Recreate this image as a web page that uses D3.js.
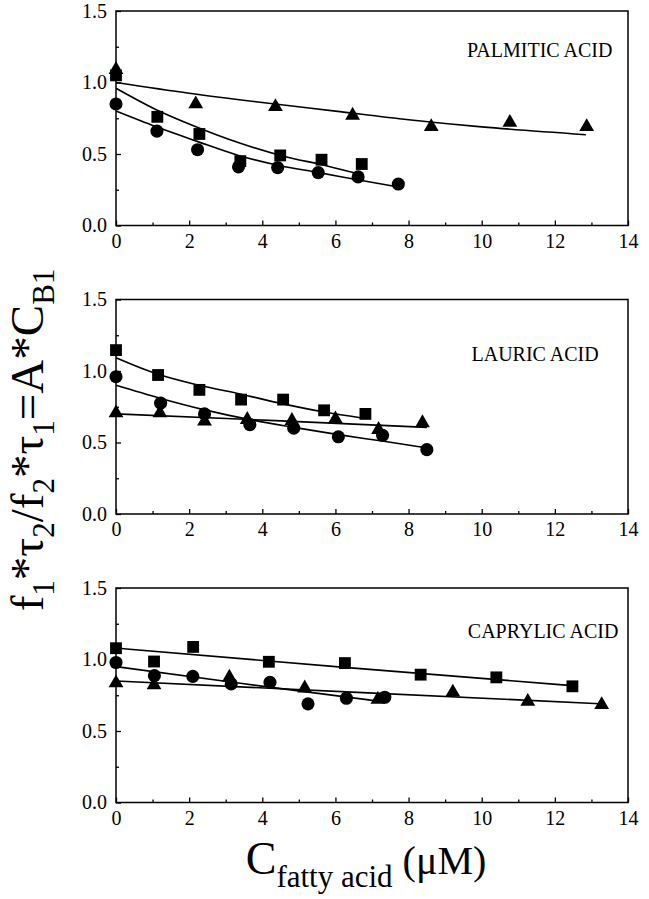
<!DOCTYPE html>
<html><head><meta charset="utf-8">
<script src="https://cdn.jsdelivr.net/npm/d3@7"></script>
<style>
body{margin:0;background:#fff}
svg{display:block}
text{font-family:"Liberation Serif","Times New Roman",serif;fill:#000}
</style>
</head><body>
<svg id="c" width="649" height="899"></svg>
<script>
// ---------- data ----------
const xTicks = [0, 2, 4, 6, 8, 10, 12, 14];
const xMinor = [1, 3, 5, 7, 9, 11, 13];
const yTicks = [0.0, 0.5, 1.0, 1.5];
const yMinor = [0.25, 0.75, 1.25];
const panelNames = ["PALMITIC ACID", "LAURIC ACID", "CAPRYLIC ACID"];
const panelLabelPos = [[9.6, 1.18], [9.72, 1.07], [9.62, 1.148]];

// Palmitic acid
const palmiticSquares = [[0,1.05],[1.13,0.76],[2.28,0.64],[3.40,0.45],[4.49,0.49],[5.62,0.46],[6.72,0.43]];
const palmiticCircles = [[0,0.85],[1.12,0.66],[2.23,0.53],[3.35,0.41],[4.42,0.405],[5.53,0.37],[6.62,0.34],[7.72,0.29]];
const palmiticTriangles = [[0,1.09],[2.18,0.85],[4.36,0.83],[6.47,0.77],[8.62,0.69],[10.77,0.72],[12.87,0.69]];
const palmiticSquareFit = [[0,0.96],[1.1,0.81],[2,0.71],[3.4,0.575],[4.5,0.49],[5.8,0.415],[6.65,0.36]];
const palmiticCircleFit = [[0,0.80],[1.1,0.69],[2.2,0.59],[3.35,0.49],[4.45,0.42],[5.55,0.37],[6.6,0.32],[7.7,0.27]];
const palmiticTriangleFit = [[0,1.0],[2,0.925],[4,0.86],[6,0.80],[8,0.74],[10,0.69],[12.85,0.635]];

// Lauric acid
const lauricSquares = [[0,1.146],[1.15,0.972],[2.28,0.868],[3.42,0.80],[4.57,0.80],[5.69,0.725],[6.82,0.70]];
const lauricCircles = [[0,0.96],[1.22,0.775],[2.42,0.70],[3.66,0.625],[4.86,0.60],[6.08,0.54],[7.29,0.55],[8.5,0.45]];
const lauricTriangles = [[0,0.706],[1.2,0.706],[2.42,0.648],[3.59,0.66],[4.81,0.653],[6.0,0.664],[7.18,0.59],[8.38,0.637]];
const lauricSquareFit = [[0,1.093],[1.15,0.977],[2.28,0.90],[3.42,0.838],[4.57,0.77],[5.69,0.713],[6.77,0.67]];
const lauricCircleFit = [[0,0.90],[1.2,0.81],[2.4,0.73],[3.66,0.66],[4.86,0.606],[6.08,0.555],[7.28,0.51],[8.49,0.463]];
const lauricTriangleFit = [[0,0.70],[4.2,0.655],[8.5,0.606]];

// Caprylic acid
const caprylicSquares = [[0,1.079],[1.04,0.986],[2.11,1.088],[4.18,0.984],[6.26,0.975],[8.33,0.894],[10.4,0.875],[12.48,0.8125]];
const caprylicCircles = [[0,0.979],[1.05,0.887],[2.1,0.882],[3.15,0.829],[4.21,0.84],[5.25,0.69],[6.3,0.729],[7.35,0.736]];
const caprylicTriangles = [[0,0.836],[1.04,0.822],[3.1,0.875],[5.16,0.80],[7.16,0.72],[9.21,0.771],[11.26,0.706],[13.28,0.683]];
const caprylicSquareFit = [[0,1.08],[6.25,0.945],[12.5,0.817]];
const caprylicCircleFit = [[0,0.95],[3.5,0.83],[7.05,0.713]];
const caprylicTriangleFit = [[0,0.85],[6.6,0.77],[13.3,0.69]];

const panels = [
  {squares: palmiticSquares, circles: palmiticCircles, triangles: palmiticTriangles,
   fits: [palmiticSquareFit, palmiticCircleFit, palmiticTriangleFit]},
  {squares: lauricSquares, circles: lauricCircles, triangles: lauricTriangles,
   fits: [lauricSquareFit, lauricCircleFit, lauricTriangleFit]},
  {squares: caprylicSquares, circles: caprylicCircles, triangles: caprylicTriangles,
   fits: [caprylicSquareFit, caprylicCircleFit, caprylicTriangleFit]}
];

// ---------- layout ----------
const svg = d3.select("#c");
const L = 116, R = 628, H = 214.5;
const tops = [11, 299.5, 588];

panels.forEach((p, i) => {
  const top = tops[i];
  const x = d3.scaleLinear().domain([0, 14]).range([L, R]);
  const y = d3.scaleLinear().domain([0, 1.5]).range([top + H, top]);
  const g = svg.append("g");

  g.append("g").attr("transform", `translate(0,${top + H})`)
    .call(d3.axisBottom(x).tickValues(xTicks).tickFormat(d3.format("d"))
      .tickSizeInner(-5).tickSizeOuter(0).tickPadding(8));
  g.append("g").attr("transform", `translate(0,${top + H})`)
    .call(d3.axisBottom(x).tickValues(xMinor).tickFormat("").tickSizeInner(-3).tickSizeOuter(0));
  g.append("g").attr("transform", `translate(${L},0)`)
    .call(d3.axisLeft(y).tickValues(yTicks).tickFormat(d3.format(".1f"))
      .tickSizeInner(-5).tickSizeOuter(0).tickPadding(9));
  g.append("g").attr("transform", `translate(${L},0)`)
    .call(d3.axisLeft(y).tickValues(yMinor).tickFormat("").tickSizeInner(-3).tickSizeOuter(0));

  g.selectAll(".domain").remove();
  g.selectAll(".tick line").attr("stroke", "#000").attr("stroke-width", 1.3);
  g.selectAll(".tick text").attr("font-size", 20)
    .style("font-family", '"Liberation Serif","Times New Roman",serif').attr("fill", "#000");

  g.append("rect").attr("x", L).attr("y", top).attr("width", R - L).attr("height", H)
    .attr("fill", "none").attr("stroke", "#000").attr("stroke-width", 1.5);

  const line = d3.line().x(d => x(d[0])).y(d => y(d[1])).curve(d3.curveMonotoneX);
  p.fits.forEach(f => {
    g.append("path").attr("d", line(f)).attr("fill", "none")
      .attr("stroke", "#000").attr("stroke-width", 1.6);
  });

  const sq = d3.symbol().type(d3.symbolSquare).size(140)();
  const ci = d3.symbol().type(d3.symbolCircle).size(135)();
  const tr = d3.symbol().type(d3.symbolTriangle).size(95)();
  [[p.squares, sq], [p.circles, ci], [p.triangles, tr]].forEach(([data, shape]) => {
    g.selectAll(null).data(data).enter().append("path")
      .attr("d", shape)
      .attr("transform", d => `translate(${x(d[0])},${y(d[1])})`)
      .attr("fill", "#000");
  });

  g.append("text").attr("x", x(panelLabelPos[i][0])).attr("y", y(panelLabelPos[i][1]))
    .attr("font-size", 20).text(panelNames[i]);
});

// y-axis title
const yt = svg.append("text")
  .attr("transform", "translate(43,440) rotate(-90)")
  .attr("text-anchor", "middle").attr("font-size", 47);
const ySegs = [["f",0],["1",1],["*",0],["τ",0],["2",1],["/f",0],["2",1],["*",0],["τ",0],["1",1],["=A",0],["*",0],["C",0],["B1",1]];
let shifted = false;
ySegs.forEach(([t, s]) => {
  const ts = yt.append("tspan").text(t);
  if (s) { ts.attr("font-size", 31).attr("dy", shifted ? 0 : 11); shifted = true; }
  else { ts.attr("dy", shifted ? -11 : 0); shifted = false; }
});

// x-axis title
const xt = svg.append("text").attr("x", 366).attr("y", 874)
  .attr("text-anchor", "middle").attr("font-size", 46);
xt.append("tspan").text("C");
xt.append("tspan").attr("font-size", 31).attr("dy", 13).text("fatty acid");
xt.append("tspan").attr("font-size", 40).attr("dy", -13).text(" (μM)");
</script>
</body></html>
